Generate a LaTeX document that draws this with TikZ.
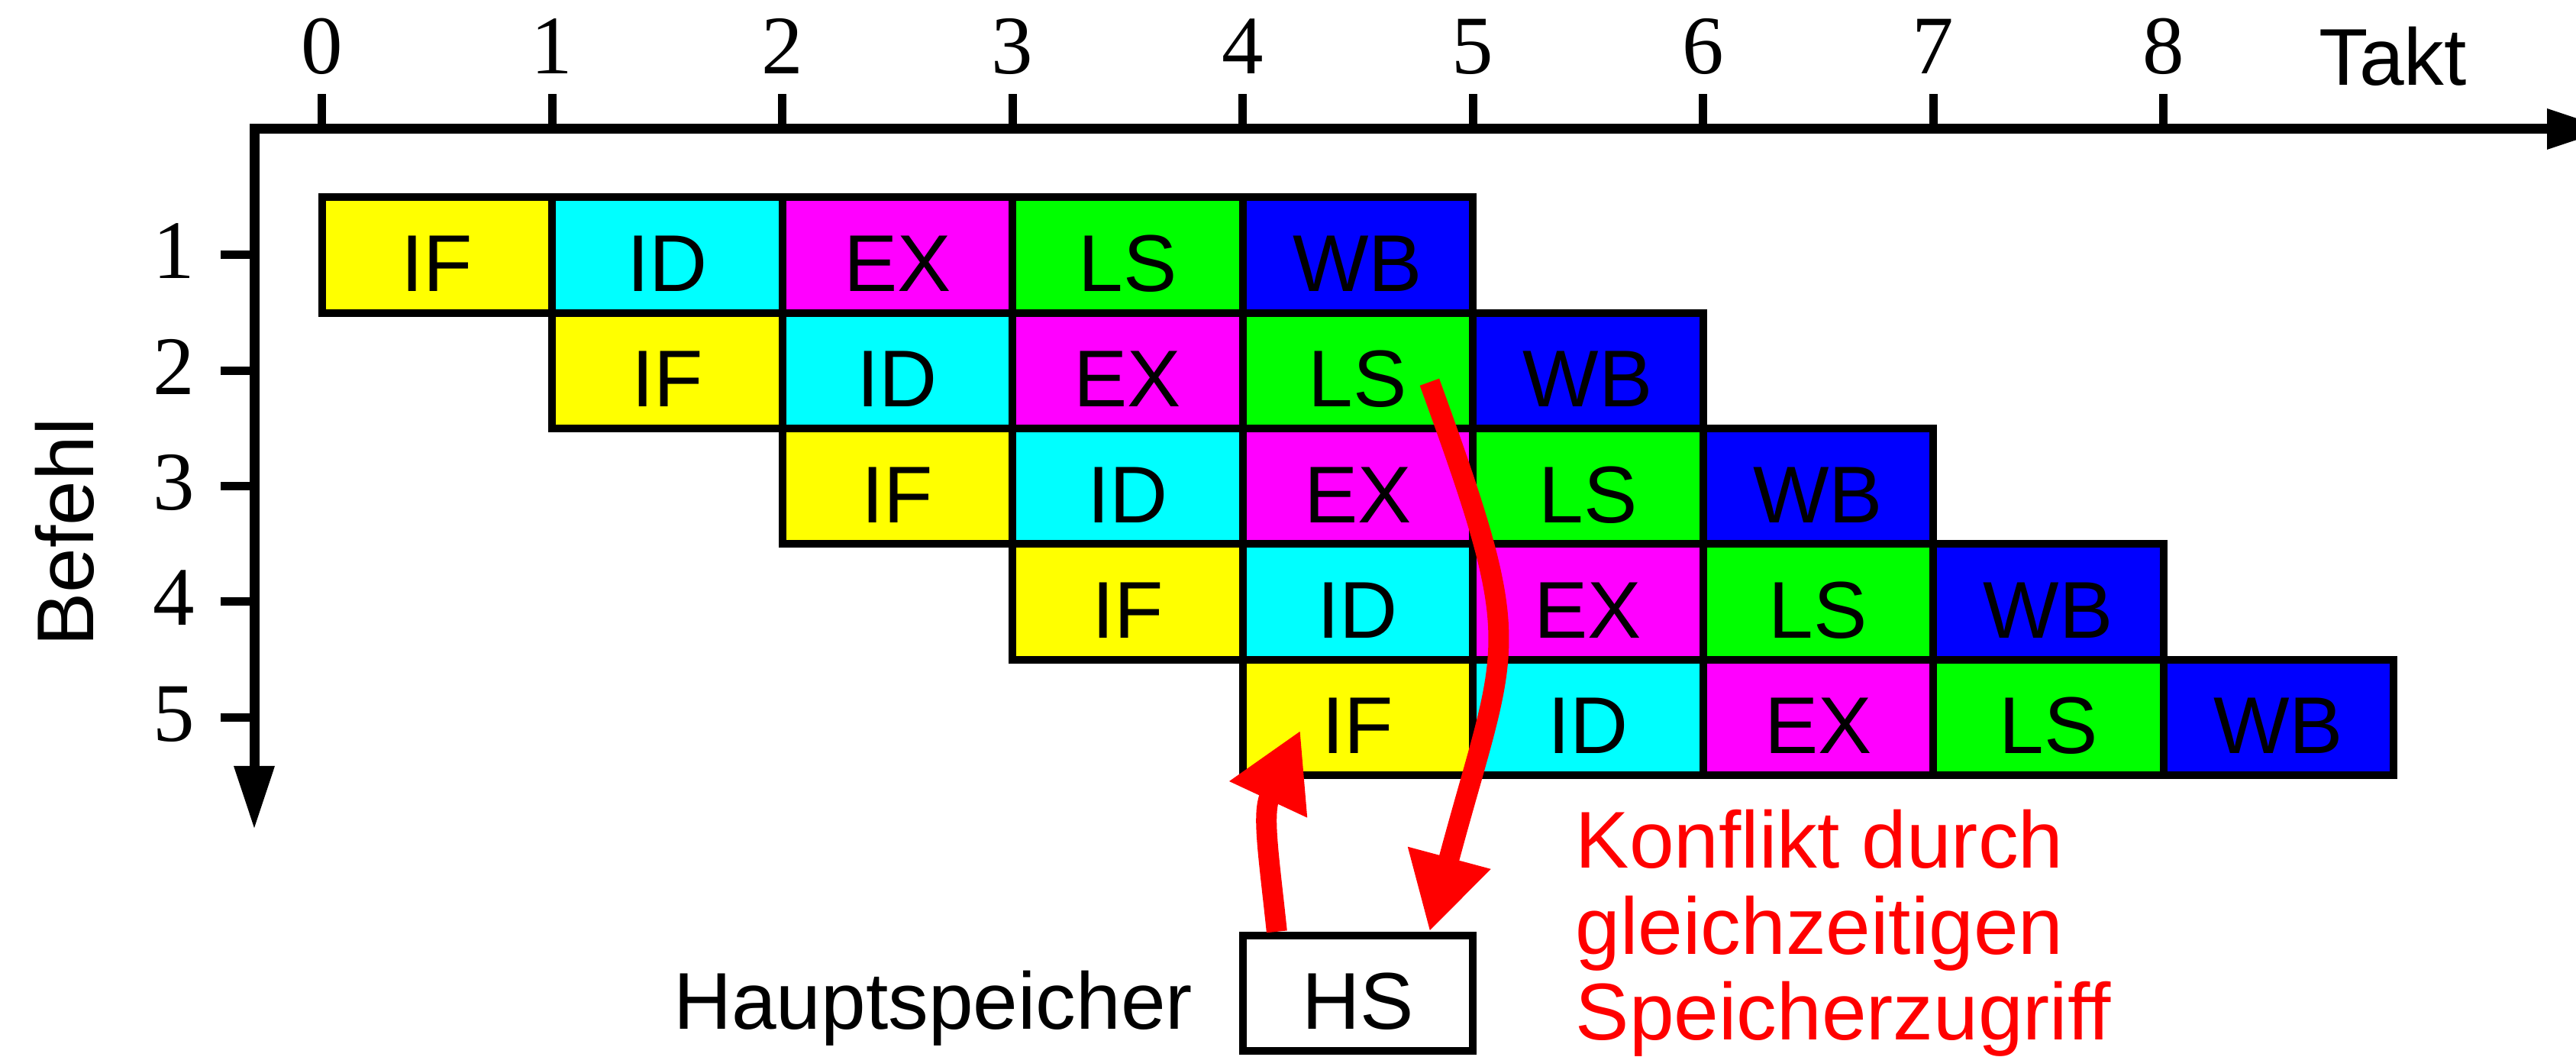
\documentclass[tikz,border=0pt]{standalone}
\usepackage{fontspec}
\setmainfont{Liberation Sans}
\newfontfamily\numfont{Liberation Serif}
\usetikzlibrary{arrows.meta,positioning,calc}

\definecolor{ifcol}{RGB}{255,255,0}
\definecolor{idcol}{RGB}{0,255,255}
\definecolor{excol}{RGB}{255,0,255}
\definecolor{lscol}{RGB}{0,255,0}
\definecolor{wbcol}{RGB}{0,0,255}
\definecolor{konflikt}{RGB}{255,0,0}

\begin{document}
\begin{tikzpicture}[
    phase/.style={draw, line width=0.1cm, minimum width=3.015cm, minimum height=1.513cm,
      inner sep=0pt, text height=0.95cm, text depth=0pt, font=\fontsize{30}{36}\selectfont},
    zahl/.style={inner sep=0pt, font=\numfont\fontsize{31}{36}\selectfont},
    beschriftung/.style={inner sep=0pt, font=\fontsize{30}{36}\selectfont},
    achse/.style={line width=0.13cm, {Triangle[length=0.83cm,width=0.5cm]}-{Triangle[length=0.83cm,width=0.5cm]}},
    strich/.style={line width=0.11cm},
    zugriff/.style={draw=konflikt, line width=0.27cm, -{Triangle[length=1cm,width=1.05cm]}}
  ]
  \useasboundingbox (0,0) rectangle (33.74,-13.84);

  % Achsen
  \coordinate (ursprung) at (3.33,-1.69);
  \coordinate (yende) at (3.33,-10.86);
  \coordinate (xende) at (34.19,-1.69);
  \draw[achse] (yende) -- (ursprung) -- (xende);
  \node[beschriftung, anchor=base] (takt) at (31.34,-1.12) {Takt};
  \node[beschriftung, anchor=base, rotate=90] (befehl) at (1.22,-6.97) {Befehl};

  % Takte
  \foreach \k in {0,...,8}{
    \draw[strich] ({4.216+3.015*\k},-1.69) -- ++(0,0.46);
    \node[zahl, anchor=base] (t\k) at ({4.216+3.015*\k},-0.97) {\k};
  }

  % Befehle mit Phasen
  \foreach \zeile in {1,...,5}{
    \draw[strich] (3.33,{-3.34-1.513*(\zeile-1)}) -- ++(-0.44,0);
    \node[zahl, anchor=base east] (b\zeile) at (2.56,{-3.65-1.513*(\zeile-1)}) {\zeile};
    \foreach \st/\farbe [count=\nr] in {IF/ifcol,ID/idcol,EX/excol,LS/lscol,WB/wbcol}
      \node[phase, fill=\farbe] (\st\zeile) at ({5.7235+3.015*(\zeile+\nr-2)},{-3.34-1.513*(\zeile-1)}) {\st};
  }

  \node[phase, fill=white, below=2.0cm of IF5] (hs) {HS};
  \node[beschriftung, left=0.6cm of hs.base west, anchor=base east] (hauptspeicher) {Hauptspeicher};
  % base = Grundlinie der letzten Zeile
  \node[beschriftung, text=konflikt, align=left, anchor=base west, font=\fontsize{30}{32.1}\selectfont] (konflikt) at (20.63,-13.62) {Konflikt durch\\gleichzeitigen\\Speicherzugriff};

  % Speicherzugriffe
  \draw[zugriff] ([shift={(0.94,-0.15)}]LS2.center) .. controls +(-70:3.8) and +(75:4.0) .. ([xshift=0.94cm]hs.north);
  \draw[zugriff] ([xshift=-1.06cm]hs.north) .. controls +(96:1.0) and +(-115:1.2) .. ([shift={(-0.75,-0.17)}]IF5.center);
\end{tikzpicture}
\end{document}
